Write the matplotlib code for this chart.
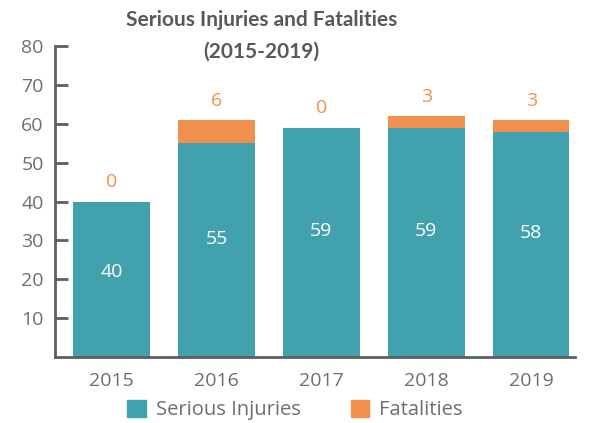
import numpy as np
import matplotlib
matplotlib.use('Agg')
import matplotlib.pyplot as plt
from matplotlib.patches import Patch

years      = ['2015', '2016', '2017', '2018', '2019']
injuries   = [40, 55, 59, 59, 58]
fatalities = [0, 6, 0, 3, 3]

TEAL   = '#41a2ae'
ORANGE = '#f2914f'
GREY   = '#6d6e71'
SPINE  = '#5b6064'

plt.rcParams['font.family'] = ['Open Sans', 'DejaVu Sans']

fig = plt.figure(figsize=(5.9, 4.23), dpi=100)
ax = fig.add_axes([0.093, 0.156, 0.882, 0.735])

x = np.arange(len(years))
ax.bar(x, injuries, width=0.73, color=TEAL, zorder=2)
ax.bar(x, fatalities, width=0.73, bottom=injuries, color=ORANGE, zorder=2)

for xi, inj, fat in zip(x, injuries, fatalities):
    ax.text(xi, inj * 0.55, str(inj), ha='center', va='center',
            color='white', fontsize=14)
    ax.text(xi, inj + fat + 5, str(fat), ha='center', va='center',
            color=ORANGE, fontsize=14)

ax.set_xlim(-0.54, 4.42)
ax.set_ylim(0, 80)
ax.set_yticks(range(10, 81, 10))
ax.set_xticks(x)
ax.set_xticklabels(years)
ax.tick_params(axis='y', direction='in', length=9, width=2, color=SPINE,
               labelsize=14, labelcolor=GREY, pad=8)
ax.tick_params(axis='x', length=0, labelsize=14, labelcolor=GREY, pad=11)

for side in ['top', 'right']:
    ax.spines[side].set_visible(False)
for side in ['left', 'bottom']:
    ax.spines[side].set_color(SPINE)
    ax.spines[side].set_linewidth(2)

fig.text(0.443, 0.915, 'Serious Injuries and Fatalities\n(2015-2019)',
         ha='center', va='center', fontsize=15, fontweight='bold',
         family=['Lato', 'DejaVu Sans'],
         color='#58595b', linespacing=1.7)

handles = [Patch(color=TEAL, label='Serious Injuries'),
           Patch(color=ORANGE, label='Fatalities')]
fig.legend(handles=handles, loc='center', bbox_to_anchor=(0.5, 0.03),
           ncol=2, frameon=False, fontsize=14.5, labelcolor=GREY,
           handlelength=0.9, handleheight=0.9, handletextpad=0.5,
           columnspacing=2.5)

fig.savefig('out.png', dpi=100)
